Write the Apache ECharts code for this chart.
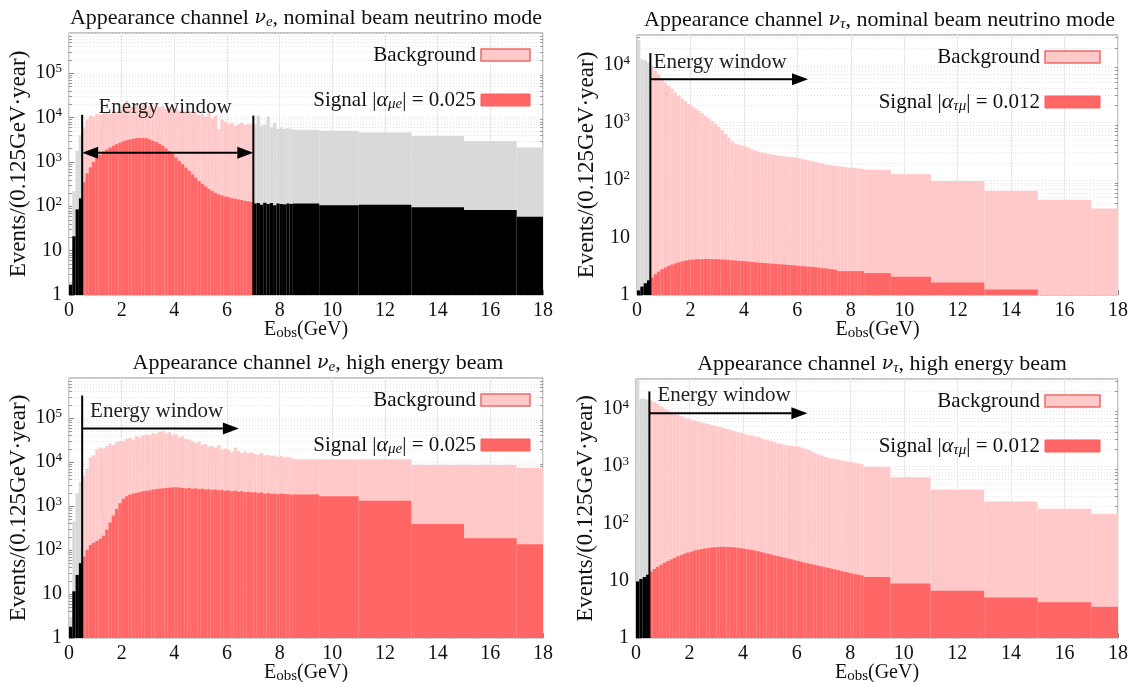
<!DOCTYPE html>
<html><head><meta charset="utf-8">
<script src="https://cdn.jsdelivr.net/npm/echarts@6/dist/echarts.min.js"></script>
<style>html,body{margin:0;padding:0;background:#fff}#c{width:1131px;height:682px}</style>
</head><body><div id="c"></div>
<script>
// ---------- DATA ----------
// Bins: 0.125 GeV wide from 0 to 8.5 GeV, then wide bins (values normalised per 0.125 GeV)
const NARROW_BIN = 0.125;
const NARROW_END = 8.5;
const WIDE_EDGES = [8.5, 9.5, 11, 13, 15, 17, 18];
const X_TICKS = [0, 2, 4, 6, 8, 10, 12, 14, 16, 18];

// Panel 1: appearance nu_e, nominal beam neutrino mode
const nomE_bg = [
  2, 220, 1800, 4000, 6000, 9000, 11000, 10500,
  12000, 11500, 12500, 13000, 12000, 14000, 13500, 15000,
  15000, 24000, 16000, 17000, 19000, 17000, 20000, 16000,
  18000, 16000, 20000, 17000, 18000, 15500, 17000, 15000,
  16000, 14000, 15000, 13500, 14000, 12000, 13500, 11500,
  12000, 10500, 13000, 9500, 11000, 5500, 9000, 8000,
  7000, 7500, 6500, 7000, 7500, 6800, 7200, 7000,
  7000, 11000, 6500, 7000, 10500, 6000, 7500, 5500,
  6000, 5500, 5800, 5500,
  5300, 5000, 4600, 3800, 2900, 2100
];
const nomE_sig = [
  1.7, 21, 85, 150, 350, 550, 750, 1000,
  1250, 1450, 1700, 1900, 2100, 2300, 2500, 2700,
  2900, 3050, 3200, 3300, 3400, 3450, 3450, 3400,
  3200, 3000, 2800, 2550, 2300, 2000, 1750, 1500,
  1250, 1050, 880, 740, 630, 520, 440, 370,
  320, 280, 245, 220, 200, 185, 175, 165,
  160, 152, 147, 142, 138, 132, 128, 125,
  115, 118, 108, 120, 112, 118, 105, 115,
  112, 110, 115, 113,
  115, 105, 108, 95, 82, 58
];
// Panel 2: appearance nu_tau, nominal beam neutrino mode
const nomTau_bg = [
  27000, 12500, 12000, 11000, 9500, 8000, 6800, 5800,
  4900, 4300, 3800, 3300, 2900, 2600, 2350, 2100,
  1900, 1750, 1600, 1450, 1300, 1180, 1060, 950,
  840, 730, 630, 540, 470, 430, 410, 395,
  380, 360, 340, 325, 310, 300, 290, 282,
  277, 270, 262, 258, 255, 250, 248, 245,
  240, 232, 225, 218, 212, 205, 198, 192,
  186, 182, 178, 176, 174, 170, 167, 164,
  162, 160, 158, 155,
  150, 125, 96, 65, 45, 32
];
const nomTau_sig = [
  1.2, 1.4, 1.6, 1.8, 2.0, 2.3, 2.55, 2.8,
  3.0, 3.2, 3.4, 3.55, 3.7, 3.85, 3.95, 4.05,
  4.1, 4.15, 4.2, 4.2, 4.22, 4.22, 4.2, 4.2,
  4.17, 4.15, 4.1, 4.05, 4.0, 3.97, 3.93, 3.9,
  3.85, 3.8, 3.75, 3.7, 3.65, 3.62, 3.58, 3.54,
  3.5, 3.47, 3.43, 3.4, 3.37, 3.33, 3.29, 3.25,
  3.2, 3.17, 3.14, 3.11, 3.08, 3.03, 2.98, 2.93,
  2.9, 2.85, 2.8, 2.75, 2.6, 2.6, 2.6, 2.6,
  2.6, 2.6, 2.6, 2.6,
  2.4, 2.07, 1.65, 1.25, null, null
];
// Panel 3: appearance nu_e, high energy beam
const heE_bg = [
  3, 440, 1900, 3500, 4900, 7000, 12500, 14000,
  19000, 21000, 20000, 23000, 26000, 24000, 28000, 30000,
  29000, 33000, 35000, 32000, 38000, 36000, 40000, 42000,
  41000, 45000, 43000, 48000, 50000, 44000, 47000, 40000,
  42000, 36000, 38000, 33000, 32000, 30000, 27000, 29000,
  24000, 25000, 22000, 23000, 21000, 24000, 19000, 20000,
  18500, 17000, 21000, 17500, 16000, 17000, 15500, 16500,
  15000, 14500, 16000, 14000, 14500, 13500, 14000, 13000,
  13500, 12500, 13000, 12500,
  11500, 11300, 11500, 8500, 8500, 7300
];
const heE_sig = [
  1.8, 11.5, 27, 50, 70, 100, 130, 145,
  160, 180, 210, 290, 420, 600, 850, 1150,
  1450, 1650, 1800, 1900, 1950, 2050, 2150, 2200,
  2250, 2350, 2400, 2450, 2500, 2550, 2580, 2620,
  2650, 2600, 2550, 2500, 2550, 2450, 2500, 2400,
  2450, 2350, 2400, 2300, 2350, 2250, 2300, 2200,
  2250, 2150, 2200, 2100, 2150, 2050, 2100, 2000,
  2050, 1950, 2000, 1900, 1950, 1850, 1900, 1850,
  1900, 1850, 1850, 1800,
  1800, 1650, 1300, 390, 185, 135
];
// Panel 4: appearance nu_tau, high energy beam
const heTau_bg = [
  32000, 15000, 15000, 14500, 14000, 13000, 12000, 11000,
  10000, 9400, 8800, 8300, 7800, 7400, 7000, 6700,
  6400, 6200, 6000, 5800, 5600, 5400, 5200, 5050,
  4900, 4700, 4550, 4400, 4200, 4050, 3900, 3750,
  3600, 3500, 3400, 3300, 3200, 3050, 2900, 2800,
  2700, 2600, 2500, 2420, 2350, 2300, 2250, 2220,
  2200, 2100, 2000, 1900, 1800, 1700, 1600, 1520,
  1450, 1400, 1350, 1320, 1300, 1260, 1220, 1190,
  1170, 1140, 1110, 1080,
  970, 640, 385, 240, 180, 147
];
const heTau_sig = [
  9.7, 10.7, 11.6, 12.7, 14.5, 16, 17.5, 19,
  20.5, 22, 23.5, 25, 26.5, 28, 29.5, 31,
  32, 33.5, 34.5, 35.5, 36.5, 37.2, 37.8, 38.3,
  38.7, 39, 39, 38.8, 38.5, 38, 37.3, 36.7,
  36, 35.2, 34.3, 33.5, 32.5, 31.5, 30.5, 29.5,
  28.5, 27.5, 26.8, 26, 25.2, 24.4, 23.6, 22.8,
  22, 21.3, 20.6, 20, 19.4, 18.8, 18.2, 17.7,
  17.2, 16.7, 16.2, 15.7, 15.2, 14.7, 14.2, 13.8,
  13.4, 13, 12.7, 12.4,
  11.6, 8.9, 6.7, 5.1, 4.2, 3.5
];

const TITLES = [
  'Appearance channel {m|\u03bd}{sub|e}, nominal beam neutrino mode',
  'Appearance channel {m|\u03bd}{sub|\u03c4}, nominal beam neutrino mode',
  'Appearance channel {m|\u03bd}{sub|e}, high energy beam',
  'Appearance channel {m|\u03bd}{sub|\u03c4}, high energy beam'
];
const SIGNAL_LABELS = [
  'Signal |{a|\u03b1}{sub|\u03bce}| = 0.025',
  'Signal |{a|\u03b1}{sub|\u03c4\u03bc}| = 0.012',
  'Signal |{a|\u03b1}{sub|\u03bce}| = 0.025',
  'Signal |{a|\u03b1}{sub|\u03c4\u03bc}| = 0.012'
];
const BG_LABEL = 'Background';
const WINDOW_LABEL = 'Energy window';
const Y_NAME = 'Events/(0.125GeV\u00b7year)';
const X_NAME = 'E{subr|obs}(GeV)';
const Y_MAX = [8e5, 3.3e4, 8e5, 3.3e4];
const MINOR_MULT = [2, 3, 4, 5, 6, 7, 8, 9];
// energy windows (GeV)
const WINDOWS = [[0.5, 7], [0.5, 99], [0.5, 99], [0.5, 99]];
// annotation: vertical window lines [x, top], arrow [x0, x1, y, both], label [x, y, align]
const ANNOT = [
  {lines: [[0.5, 11500], [7, 11000]], arrow: [0.5, 7, 1600, true], label: [3.65, 17000, 'center']},
  {lines: [[0.5, 16000]], arrow: [0.5, 6.4, 5600, false], label: [0.62, 11000, 'left']},
  {lines: [[0.5, 320000]], arrow: [0.5, 6.45, 57000, false], label: [0.8, 140000, 'left']},
  {lines: [[0.5, 20000]], arrow: [0.5, 6.4, 8300, false], label: [0.8, 17000, 'left']}
];
const SERIES = [[nomE_bg, nomE_sig], [nomTau_bg, nomTau_sig], [heE_bg, heE_sig], [heTau_bg, heTau_sig]];

// ---------- LAYOUT / STYLE ----------
const PANELS = [
  {left: 69, top: 33, width: 474, height: 262},
  {left: 637, top: 35, width: 481, height: 260},
  {left: 69, top: 378, width: 474, height: 260},
  {left: 636, top: 379, width: 482, height: 259}
];
const TITLE_DX = [0, 2, 12, 5];
const FONT = '"Liberation Serif", "DejaVu Serif", serif';
const C_BG = '#FFC9C9', C_BG_OUT = '#D9D9D9', C_SIG = '#FF6666', C_SIG_OUT = '#000000';
const SUB = {fontSize: 15, fontStyle: 'italic', verticalAlign: 'bottom', lineHeight: 14, fontFamily: FONT, color: '#111'};
const SUBR = {fontSize: 15, verticalAlign: 'bottom', lineHeight: 14, fontFamily: FONT, color: '#111'};
const MATH = {fontSize: 19, fontStyle: 'italic', fontFamily: '"DejaVu Serif", serif', color: '#111', lineHeight: 24};
const ALPHA = {fontSize: 22, fontStyle: 'italic', fontFamily: FONT, color: '#111', lineHeight: 24};

function binEdges() {
  const e = [];
  const n = Math.round(NARROW_END / NARROW_BIN);
  for (let i = 0; i <= n; i++) e.push(i * NARROW_BIN);
  for (let i = 1; i < WIDE_EDGES.length; i++) e.push(WIDE_EDGES[i]);
  return e;
}
const EDGES = binEdges();

function bins(values, win) {
  const out = [];
  values.forEach((v, i) => {
    if (v == null || v <= 0) return;
    const x0 = EDGES[i], x1 = EDGES[i + 1];
    const inside = (x0 >= win[0] - 1e-9 && x1 <= win[1] + 1e-9) ? 1 : 0;
    out.push([x0, x1, v, inside]);
  });
  return out;
}

function barRender(cIn, cOut) {
  return function (params, api) {
    const x0 = api.value(0), x1 = api.value(1), v = api.value(2), inside = api.value(3);
    const a = api.coord([x0, v]), b = api.coord([x1, 1]);
    return {type: 'rect', shape: {x: a[0], y: a[1], width: b[0] - a[0], height: b[1] - a[1]},
      style: {fill: inside ? cIn : cOut}};
  };
}

// minor log ticks + faint dotted minor grid (decoration of the axis)
function minorRender(maxV) {
  return function (params, api) {
    const kids = [];
    const l = api.coord([0, 1]), r = api.coord([18, 1]);
    for (let d = 1; d < maxV; d *= 10) {
      MINOR_MULT.forEach(m => {
        const v = m * d;
        if (v >= maxV) return;
        const y = Math.round(api.coord([0, v])[1]) + 0.5;
        kids.push({type: 'line', shape: {x1: l[0], y1: y, x2: r[0], y2: y}, style: {stroke: '#e6e6e6', lineWidth: 1, lineDash: [1, 2]}});
        kids.push({type: 'line', shape: {x1: l[0], y1: y, x2: l[0] + 3, y2: y}, style: {stroke: '#999', lineWidth: 1}});
        kids.push({type: 'line', shape: {x1: r[0] - 3, y1: y, x2: r[0], y2: y}, style: {stroke: '#999', lineWidth: 1}});
      });
    }
    return {type: 'group', children: kids};
  };
}

function annotRender(cfg) {
  return function (params, api) {
    const kids = [];
    cfg.lines.forEach(([x, top]) => {
      const a = api.coord([x, 1]), b = api.coord([x, top]);
      kids.push({type: 'line', shape: {x1: a[0], y1: a[1], x2: b[0], y2: b[1]}, style: {stroke: '#000', lineWidth: 2}});
    });
    const s = api.coord([cfg.arrow[0], cfg.arrow[2]]), e = api.coord([cfg.arrow[1], cfg.arrow[2]]);
    const L = 16, H = 6;
    const x1 = cfg.arrow[3] ? s[0] + L : s[0];
    kids.push({type: 'line', shape: {x1: x1, y1: s[1], x2: e[0] - L, y2: e[1]}, style: {stroke: '#000', lineWidth: 2}});
    kids.push({type: 'polygon', shape: {points: [[e[0], e[1]], [e[0] - L, e[1] - H], [e[0] - L, e[1] + H]]}, style: {fill: '#000'}});
    if (cfg.arrow[3]) {
      kids.push({type: 'polygon', shape: {points: [[s[0], s[1]], [s[0] + L, s[1] - H], [s[0] + L, s[1] + H]]}, style: {fill: '#000'}});
    }
    const t = api.coord([cfg.label[0], cfg.label[1]]);
    kids.push({type: 'text', x: t[0], y: t[1], style: {text: WINDOW_LABEL, font: '21px ' + FONT, fill: '#222',
      align: cfg.label[2], verticalAlign: 'middle'}});
    return {type: 'group', children: kids};
  };
}

function yLabel(v) {
  const lg = Math.log10(v), k = Math.round(lg);
  if (Math.abs(lg - k) > 1e-6) return '';
  if (k === 0) return '1';
  if (k === 1) return '10';
  return '10{sup|' + k + '}';
}

const grid = [], xAxis = [], yAxis = [], series = [], graphic = [];
PANELS.forEach((p, i) => {
  grid.push({left: p.left, top: p.top, width: p.width, height: p.height, show: true,
    containLabel: false, outerBoundsMode: 'none',
    borderColor: '#8a8a8a', borderWidth: 1, backgroundColor: 'transparent'});
  xAxis.push({type: 'value', gridIndex: i, min: 0, max: 18, interval: 2,
    axisLine: {show: false}, axisTick: {inside: true, length: 5, lineStyle: {color: '#888'}},
    axisLabel: {fontFamily: FONT, fontSize: 20, color: '#111', margin: 6,
      formatter: v => X_TICKS.indexOf(v) >= 0 ? String(v) : ''},
    splitLine: {show: true, lineStyle: {color: '#e8e8e8', width: 1}}});
  yAxis.push({type: 'log', logBase: 10, gridIndex: i, min: 1, max: Y_MAX[i],
    axisLine: {show: false}, axisTick: {inside: true, length: 5, lineStyle: {color: '#888'}},
    axisLabel: {fontFamily: FONT, fontSize: 20, color: '#111', margin: 7, lineHeight: 22, formatter: yLabel,
      showMaxLabel: false,
      rich: {sup: {fontSize: 13, verticalAlign: 'top', lineHeight: 13, fontFamily: FONT, color: '#111'}}},
    splitLine: {show: true, lineStyle: {color: '#e6e6e6', width: 1, type: [1, 2]}},
    name: Y_NAME, nameLocation: 'middle', nameGap: 39, nameRotate: 90,
    nameTextStyle: {fontFamily: FONT, fontSize: 23, color: '#111'}});
  const [bg, sig] = SERIES[i];
  series.push({type: 'custom', xAxisIndex: i, yAxisIndex: i, renderItem: minorRender(Y_MAX[i]),
    data: [[1, 1]], silent: true, z: 1});
  series.push({type: 'custom', xAxisIndex: i, yAxisIndex: i, renderItem: barRender(C_BG, C_BG_OUT),
    data: bins(bg, WINDOWS[i]), encode: {x: [0, 1], y: 2}, silent: true, z: 2});
  series.push({type: 'custom', xAxisIndex: i, yAxisIndex: i, renderItem: barRender(C_SIG, C_SIG_OUT),
    data: bins(sig, WINDOWS[i]), encode: {x: [0, 1], y: 2}, silent: true, z: 3});
  series.push({type: 'custom', xAxisIndex: i, yAxisIndex: i, renderItem: annotRender(ANNOT[i]),
    data: [[1, 1]], silent: true, z: 5});
  // title
  graphic.push({type: 'text', x: p.left + p.width / 2 + TITLE_DX[i], y: p.top - 15, z: 10,
    style: {text: TITLES[i], fill: '#111', font: '22px ' + FONT, align: 'center', verticalAlign: 'middle',
      lineHeight: 24, rich: {sub: SUB, m: MATH}}});
  // x axis name
  graphic.push({type: 'text', x: p.left + p.width / 2, y: p.top + p.height + 35, z: 10,
    style: {text: X_NAME, fill: '#111', font: '20px ' + FONT, align: 'center', verticalAlign: 'middle',
      lineHeight: 22, rich: {subr: SUBR}}});
  // legend
  const right = p.left + p.width - (i % 2 === 0 ? 13 : 18);
  const bw = i % 2 === 0 ? 49 : 55;
  const y1 = p.top + 22, y2 = p.top + 67;
  graphic.push({type: 'rect', shape: {x: right - bw, y: y1 - 6, width: bw, height: 12}, z: 10,
    style: {fill: C_BG, stroke: '#F06A6A', lineWidth: 1.5}});
  graphic.push({type: 'rect', shape: {x: right - bw, y: y2 - 6, width: bw, height: 12}, z: 10,
    style: {fill: C_SIG, stroke: '#FF5C5C', lineWidth: 1}});
  graphic.push({type: 'text', x: right - bw - 5, y: y1, z: 10,
    style: {text: BG_LABEL, fill: '#111', font: '21px ' + FONT, align: 'right', verticalAlign: 'middle'}});
  graphic.push({type: 'text', x: right - bw - 5, y: y2, z: 10,
    style: {text: SIGNAL_LABELS[i], fill: '#111', font: '21px ' + FONT, align: 'right', verticalAlign: 'middle',
      lineHeight: 24, rich: {sub: SUB, a: ALPHA}}});
});

const chart = echarts.init(document.getElementById('c'), null, {renderer: 'canvas'});
chart.setOption({animation: false, backgroundColor: '#fff', grid, xAxis, yAxis, series, graphic});
</script></body></html>
